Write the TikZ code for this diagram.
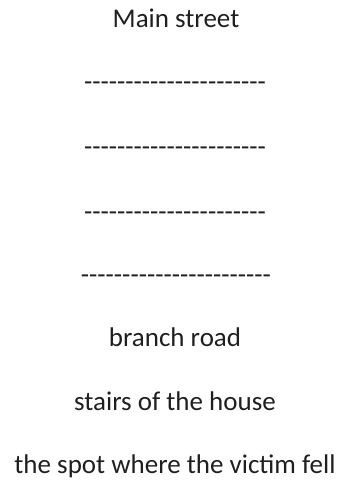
\documentclass[tikz,border=0pt]{standalone}
\usepackage{fontspec}
\setmainfont{Carlito}[Ligatures=TeXOff]

\begin{document}
\begin{tikzpicture}[x=1pt, y=-1pt,
    place/.style={anchor=base, inner sep=0pt, text=black!88, font=\fontsize{27}{32}\selectfont}]
  \useasboundingbox (0,0) rectangle (342,480);
  % names of the places, top to bottom
  \node[place] (main)   at (176, 27)  {Main street};
  \node[place] (dashA)  at (175, 90)  {----------------------};
  \node[place] (dashB)  at (175, 155) {----------------------};
  \node[place] (dashC)  at (175, 220) {----------------------};
  \node[place] (dashD)  at (176, 283) {-----------------------};
  \node[place] (branch) at (175, 346) {branch road};
  \node[place] (stairs) at (175, 410) {stairs of the house};
  \node[place] (spot)   at (175, 473) {the spot where the victim fell};
\end{tikzpicture}
\end{document}
